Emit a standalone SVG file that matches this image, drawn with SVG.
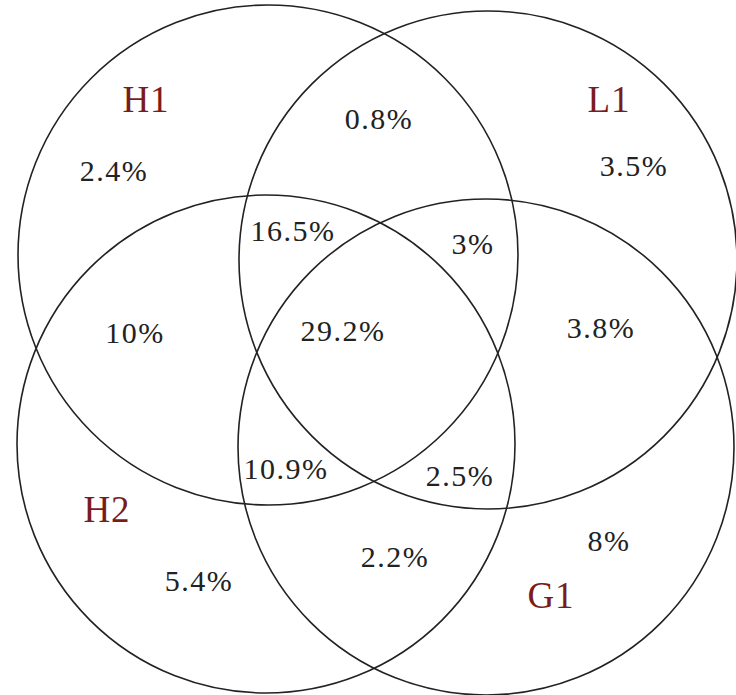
<svg xmlns="http://www.w3.org/2000/svg" width="736" height="695" viewBox="0 0 736 695">
<style>
.c{fill:none;stroke:#222;stroke-width:1.6}
.lab{font-family:"Liberation Serif","Times New Roman",serif;font-size:37px;fill:#7a1c1c;text-anchor:middle;letter-spacing:1px}
.pct{font-family:"Liberation Serif","Times New Roman",serif;font-size:30px;fill:#222;text-anchor:middle;letter-spacing:1.5px}
</style>
<rect width="736" height="695" fill="#fff"/>
<g id="H1"><circle class="c" cx="268" cy="255" r="250"/><text class="lab" x="146" y="112">H1</text></g>
<g id="L1"><circle class="c" cx="488" cy="260" r="249"/><text class="lab" x="609" y="112">L1</text></g>
<g id="H2"><circle class="c" cx="266" cy="444" r="249"/><text class="lab" x="107" y="522">H2</text></g>
<g id="G1"><circle class="c" cx="486" cy="447" r="248"/><text class="lab" x="551" y="608">G1</text></g>
<g id="values">
<text class="pct" x="379" y="129">0.8%</text>
<text class="pct" x="114" y="181">2.4%</text>
<text class="pct" x="634" y="176">3.5%</text>
<text class="pct" x="293" y="241">16.5%</text>
<text class="pct" x="473" y="254">3%</text>
<text class="pct" x="135" y="343">10%</text>
<text class="pct" x="343" y="341">29.2%</text>
<text class="pct" x="601" y="338">3.8%</text>
<text class="pct" x="286" y="479">10.9%</text>
<text class="pct" x="460" y="486">2.5%</text>
<text class="pct" x="395" y="567">2.2%</text>
<text class="pct" x="609" y="551">8%</text>
<text class="pct" x="199" y="591">5.4%</text>
</g>
<g id="connectors"/>
</svg>
